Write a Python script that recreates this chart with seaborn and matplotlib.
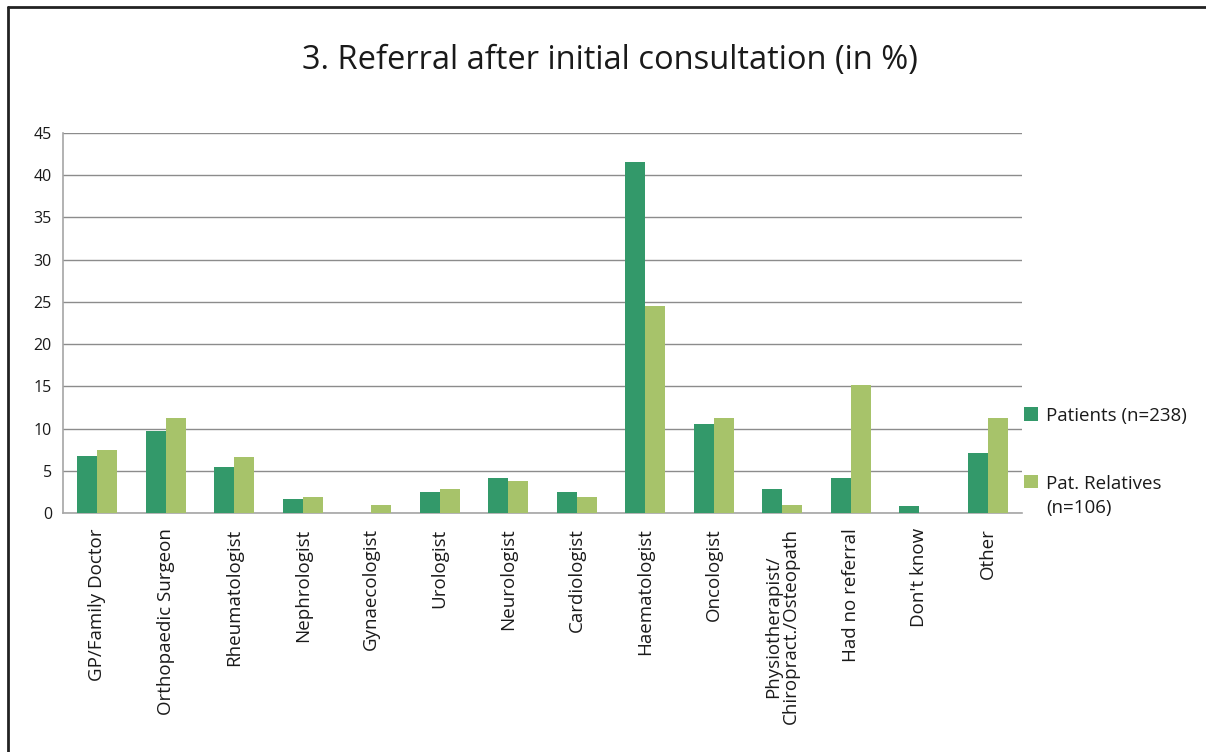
import matplotlib
matplotlib.use("Agg")
import matplotlib.pyplot as plt
from matplotlib.lines import Line2D
from matplotlib.offsetbox import HPacker
import pandas as pd
import seaborn as sns

categories = [
    "GP/Family Doctor", "Orthopaedic Surgeon", "Rheumatologist", "Nephrologist",
    "Gynaecologist", "Urologist", "Neurologist", "Cardiologist", "Haematologist",
    "Oncologist", "Physiotherapist/\nChiropract./Osteopath", "Had no referral",
    "Don't know", "Other",
]
patients = [6.7, 9.7, 5.5, 1.7, 0.0, 2.5, 4.2, 2.5, 41.6, 10.5, 2.9, 4.2, 0.8, 7.1]
relatives = [7.5, 11.3, 6.6, 1.9, 0.9, 2.8, 3.8, 1.9, 24.5, 11.3, 0.9, 15.1, 0.0, 11.3]
series_names = ["Patients (n=238)", "Pat. Relatives\n(n=106)"]
series_colors = ["#33996A", "#A7C36A"]
y_ticks = list(range(0, 50, 5))

df = pd.DataFrame({
    "category": categories * 2,
    "value": patients + relatives,
    "series": [series_names[0]] * len(categories) + [series_names[1]] * len(categories),
})

sns.set_theme(style="white")
plt.rcParams["font.family"] = ["Open Sans", "DejaVu Sans"]

fig = plt.figure(figsize=(12.06, 7.52), dpi=100)
ax = fig.add_axes([63 / 1206, 1 - 513 / 752, (1022 - 63) / 1206, (513 - 133) / 752])

sns.barplot(data=df, x="category", y="value", hue="series", order=categories,
            hue_order=series_names, palette=series_colors, width=0.58, gap=0,
            saturation=1, errorbar=None, linewidth=0, edgecolor="none",
            ax=ax, zorder=3)

ax.set_ylim(0, 45)
ax.set_yticks(y_ticks)
ax.set_xlim(-0.5, len(categories) - 0.5)
ax.yaxis.grid(True, color="#8c8c8c", linewidth=1, zorder=0)
ax.set_axisbelow(True)
for side in ["top", "right"]:
    ax.spines[side].set_visible(False)
for side in ["left", "bottom"]:
    ax.spines[side].set_color("#a6a6a6")
    ax.spines[side].set_linewidth(1.2)
ax.set_xlabel("")
ax.set_ylabel("")
ax.tick_params(axis="y", length=0, pad=8, labelsize=11.5, labelcolor="#1a1a1a")
ax.tick_params(axis="x", length=0, pad=11, labelsize=13.5, labelcolor="#1a1a1a")
ax.set_xticks(range(len(categories)))
ax.set_xticklabels(categories, rotation=90, ha="center", va="top", linespacing=1.0)

leg = ax.legend(loc="upper left", bbox_to_anchor=(1022 / 1206 + 0.002, 1 - 407 / 752),
                bbox_transform=fig.transFigure, frameon=False, fontsize=13.5,
                handlelength=0.75, handleheight=0.75, handletextpad=0.4,
                labelspacing=2.65, borderpad=0, borderaxespad=0)
for t in leg.get_texts():
    t.set_color("#1a1a1a")
    t.set_linespacing(1.45)


def _top_align(box):
    # keep each legend swatch level with the first line of its label
    for child in box.get_children():
        if isinstance(child, HPacker):
            child.align = "top"
        else:
            _top_align(child)


_top_align(leg._legend_handle_box)

fig.text(610 / 1206, 1 - 60 / 752, "3. Referral after initial consultation (in %)",
         ha="center", va="center", fontsize=23.5, color="#1a1a1a")

# chart frame on the left and top edges
fig.add_artist(Line2D([8 / 1206, 8 / 1206], [0, 1 - 7 / 752], transform=fig.transFigure,
                      color="#222222", linewidth=2))
fig.add_artist(Line2D([8 / 1206, 1], [1 - 7 / 752, 1 - 7 / 752], transform=fig.transFigure,
                      color="#222222", linewidth=2))

fig.savefig("out.png", dpi=100, facecolor="white")
